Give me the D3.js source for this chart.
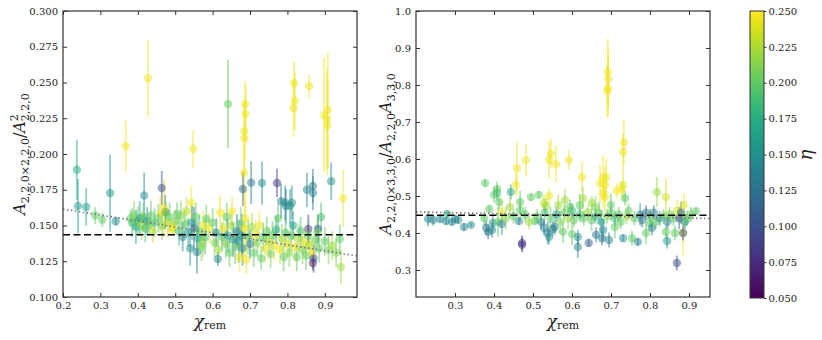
<!DOCTYPE html>
<html>
<head>
<meta charset="utf-8">
<script src="https://cdn.jsdelivr.net/npm/d3@7"></script>
<style>
  body { margin: 0; background: #fff; }
  svg text { font-family: "DejaVu Serif", "Liberation Serif", serif; fill: #222; }
</style>
</head>
<body>
<div id="chart"></div>
<script>
// data: [chi_rem, ratio, error, eta]
var leftPoints = [
  [0.427,0.253,0.027,0.245],[0.368,0.2056,0.018,0.245],[0.548,0.2035,0.013,0.245],[0.237,0.189,0.021,0.17],
  [0.641,0.235,0.031,0.2],[0.687,0.235,0.016,0.245],[0.688,0.228,0.02,0.245],[0.685,0.216,0.02,0.245],
  [0.685,0.211,0.025,0.245],[0.818,0.2497,0.015,0.245],[0.820,0.237,0.02,0.245],[0.816,0.232,0.02,0.245],
  [0.858,0.2475,0.008,0.245],[0.898,0.2273,0.04,0.245],[0.908,0.2308,0.04,0.245],[0.906,0.2245,0.035,0.245],
  [0.907,0.220,0.035,0.245],[0.240,0.1636,0.019,0.16],[0.262,0.163,0.013,0.165],[0.286,0.157,0.006,0.2],
  [0.305,0.154,0.005,0.2],[0.326,0.1727,0.027,0.155],[0.341,0.153,0.003,0.15],[0.417,0.171,0.016,0.15],
  [0.464,0.1762,0.012,0.1],[0.473,0.1594,0.012,0.11],[0.684,0.1867,0.02,0.245],[0.681,0.1755,0.012,0.12],
  [0.703,0.180,0.015,0.13],[0.732,0.1797,0.015,0.145],[0.772,0.1797,0.01,0.08],[0.783,0.167,0.012,0.14],
  [0.794,0.166,0.012,0.14],[0.796,0.1636,0.012,0.14],[0.807,0.1636,0.012,0.15],[0.812,0.166,0.012,0.15],
  [0.852,0.175,0.012,0.14],[0.868,0.1776,0.012,0.13],[0.868,0.1727,0.012,0.14],[0.917,0.181,0.013,0.15],
  [0.949,0.169,0.02,0.245],[0.856,0.1476,0.01,0.08],[0.882,0.1476,0.01,0.11],[0.868,0.1238,0.005,0.07],
  [0.94,0.1406,0.01,0.2],[0.943,0.121,0.012,0.22],[0.614,0.1266,0.005,0.14],[0.54,0.134,0.012,0.15],
  [0.558,0.1315,0.015,0.14],[0.52,0.142,0.01,0.14],[0.46,0.158,0.012,0.245],[0.49,0.1476,0.005,0.245],
  [0.543,0.166,0.012,0.245],[0.574,0.138,0.01,0.22],[0.583,0.1545,0.01,0.2],[0.47,0.162,0.02,0.245],
  [0.38,0.155,0.006,0.2],[0.385,0.152,0.01,0.19],[0.39,0.157,0.01,0.21],[0.395,0.149,0.012,0.17],
  [0.40,0.153,0.01,0.2],[0.405,0.155,0.012,0.16],[0.41,0.150,0.01,0.22],[0.415,0.156,0.01,0.2],
  [0.42,0.148,0.01,0.19],[0.425,0.153,0.01,0.15],[0.43,0.151,0.008,0.21],[0.435,0.157,0.01,0.2],
  [0.44,0.146,0.008,0.23],[0.445,0.152,0.01,0.19],[0.455,0.155,0.01,0.2],[0.465,0.150,0.01,0.21],
  [0.475,0.159,0.008,0.21],[0.48,0.152,0.01,0.23],[0.485,0.156,0.01,0.2],[0.495,0.149,0.005,0.245],
  [0.50,0.153,0.008,0.21],[0.505,0.158,0.008,0.2],[0.51,0.146,0.01,0.19],[0.515,0.157,0.01,0.21],
  [0.525,0.151,0.01,0.2],[0.53,0.160,0.01,0.23],[0.535,0.145,0.01,0.16],[0.545,0.152,0.012,0.15],
  [0.55,0.148,0.015,0.12],[0.555,0.156,0.01,0.2],[0.56,0.141,0.012,0.17],[0.565,0.146,0.012,0.2],
  [0.57,0.135,0.01,0.21],[0.575,0.150,0.01,0.245],[0.58,0.142,0.012,0.19],[0.59,0.148,0.01,0.245],
  [0.60,0.152,0.01,0.2],[0.605,0.138,0.01,0.21],[0.61,0.145,0.01,0.15],[0.615,0.133,0.008,0.22],
  [0.62,0.159,0.012,0.245],[0.625,0.142,0.01,0.19],[0.63,0.148,0.012,0.245],[0.635,0.137,0.01,0.21],
  [0.638,0.156,0.01,0.2],[0.64,0.143,0.012,0.16],[0.645,0.131,0.01,0.2],[0.65,0.150,0.01,0.22],
  [0.652,0.16,0.01,0.245],[0.655,0.140,0.012,0.15],[0.66,0.135,0.012,0.2],[0.665,0.146,0.012,0.14],
  [0.67,0.139,0.015,0.15],[0.672,0.128,0.01,0.245],[0.675,0.151,0.012,0.2],[0.678,0.143,0.015,0.16],
  [0.68,0.134,0.012,0.14],[0.685,0.148,0.02,0.245],[0.688,0.155,0.02,0.245],[0.69,0.126,0.01,0.245],
  [0.695,0.142,0.012,0.2],[0.70,0.137,0.01,0.13],[0.705,0.149,0.01,0.22],[0.71,0.131,0.01,0.2],
  [0.715,0.144,0.01,0.245],[0.72,0.138,0.01,0.21],[0.725,0.150,0.01,0.245],[0.73,0.127,0.008,0.2],
  [0.735,0.142,0.01,0.19],[0.74,0.134,0.01,0.245],[0.745,0.146,0.01,0.2],[0.75,0.139,0.01,0.23],
  [0.755,0.130,0.01,0.21],[0.76,0.143,0.01,0.2],[0.765,0.136,0.01,0.245],[0.77,0.147,0.01,0.17],
  [0.775,0.155,0.01,0.2],[0.78,0.133,0.01,0.245],[0.785,0.141,0.01,0.22],[0.79,0.128,0.01,0.2],
  [0.795,0.145,0.01,0.19],[0.80,0.137,0.01,0.245],[0.805,0.131,0.01,0.21],[0.81,0.143,0.01,0.2],
  [0.815,0.150,0.01,0.16],[0.82,0.135,0.01,0.245],[0.825,0.128,0.01,0.2],[0.83,0.141,0.01,0.22],
  [0.835,0.146,0.01,0.19],[0.84,0.133,0.01,0.21],[0.845,0.138,0.01,0.245],[0.85,0.129,0.01,0.2],
  [0.855,0.143,0.01,0.2],[0.86,0.136,0.01,0.23],[0.865,0.131,0.01,0.245],[0.87,0.127,0.01,0.09],
  [0.875,0.140,0.01,0.2],[0.88,0.145,0.01,0.21],[0.885,0.134,0.01,0.2],[0.89,0.156,0.01,0.19],
  [0.90,0.139,0.01,0.2],[0.91,0.133,0.01,0.21],[0.92,0.136,0.01,0.22],[0.93,0.131,0.01,0.21]
];
var rightPoints = [
  [0.692,0.835,0.09,0.245],[0.693,0.816,0.08,0.245],[0.692,0.792,0.08,0.245],[0.691,0.784,0.07,0.245],
  [0.459,0.575,0.07,0.245],[0.482,0.597,0.045,0.245],[0.541,0.597,0.05,0.245],[0.546,0.614,0.04,0.245],
  [0.559,0.586,0.05,0.245],[0.592,0.597,0.025,0.245],[0.733,0.645,0.06,0.245],[0.731,0.619,0.05,0.245],
  [0.456,0.530,0.03,0.245],[0.626,0.551,0.04,0.245],[0.672,0.535,0.05,0.245],[0.68,0.549,0.06,0.245],
  [0.688,0.551,0.05,0.245],[0.685,0.53,0.05,0.245],[0.68,0.508,0.04,0.245],[0.685,0.497,0.04,0.245],
  [0.715,0.514,0.02,0.245],[0.728,0.519,0.02,0.245],[0.731,0.53,0.04,0.24],[0.818,0.511,0.04,0.22],
  [0.841,0.497,0.05,0.235],[0.887,0.476,0.03,0.24],[0.377,0.535,0.01,0.2],[0.40,0.503,0.02,0.2],
  [0.408,0.519,0.02,0.2],[0.408,0.508,0.02,0.19],[0.413,0.484,0.02,0.2],[0.443,0.511,0.02,0.17],
  [0.441,0.47,0.03,0.22],[0.467,0.484,0.03,0.2],[0.467,0.462,0.03,0.2],[0.495,0.497,0.01,0.2],
  [0.515,0.503,0.01,0.2],[0.528,0.481,0.02,0.23],[0.533,0.473,0.02,0.22],[0.541,0.5,0.02,0.245],
  [0.582,0.489,0.03,0.22],[0.628,0.494,0.03,0.22],[0.651,0.481,0.02,0.22],[0.7,0.476,0.03,0.2],
  [0.736,0.494,0.02,0.2],[0.918,0.459,0.01,0.2],[0.388,0.465,0.01,0.2],
  [0.231,0.438,0.02,0.14],[0.244,0.435,0.015,0.14],[0.262,0.438,0.01,0.15],[0.277,0.432,0.01,0.14],
  [0.28,0.451,0.01,0.17],[0.292,0.43,0.01,0.14],[0.3,0.438,0.01,0.15],[0.308,0.435,0.01,0.14],
  [0.323,0.416,0.01,0.14],[0.341,0.422,0.005,0.15],[0.38,0.414,0.02,0.13],[0.385,0.403,0.02,0.13],
  [0.395,0.408,0.02,0.14],[0.397,0.427,0.02,0.15],[0.41,0.43,0.04,0.2],[0.42,0.425,0.03,0.14],
  [0.43,0.44,0.03,0.21],[0.464,0.432,0.01,0.14],[0.472,0.373,0.02,0.08],[0.472,0.368,0.02,0.08],
  [0.505,0.432,0.01,0.2],[0.521,0.43,0.02,0.14],[0.528,0.414,0.02,0.14],[0.538,0.4,0.03,0.13],
  [0.541,0.389,0.02,0.15],[0.551,0.411,0.02,0.14],[0.556,0.416,0.02,0.14],[0.577,0.403,0.03,0.2],
  [0.60,0.397,0.03,0.2],[0.615,0.389,0.02,0.15],[0.615,0.362,0.03,0.14],[0.643,0.373,0.01,0.11],
  [0.662,0.395,0.02,0.13],[0.677,0.386,0.02,0.13],[0.68,0.408,0.03,0.15],[0.695,0.381,0.02,0.14],
  [0.71,0.416,0.03,0.2],[0.731,0.386,0.01,0.15],[0.754,0.386,0.02,0.2],[0.769,0.376,0.01,0.14],
  [0.79,0.4,0.03,0.2],[0.8,0.427,0.02,0.2],[0.805,0.414,0.02,0.14],[0.841,0.403,0.02,0.2],
  [0.844,0.378,0.02,0.16],[0.864,0.4,0.02,0.2],[0.885,0.4,0.06,0.245],[0.885,0.4,0.02,0.1],
  [0.869,0.319,0.02,0.1],[0.89,0.43,0.02,0.15],
  [0.375,0.44,0.02,0.2],[0.42,0.455,0.03,0.24],[0.45,0.445,0.02,0.2],[0.48,0.45,0.02,0.2],
  [0.49,0.43,0.02,0.22],[0.51,0.445,0.02,0.2],[0.53,0.455,0.02,0.19],[0.545,0.44,0.03,0.2],
  [0.56,0.45,0.02,0.16],[0.57,0.43,0.03,0.21],[0.58,0.455,0.02,0.2],[0.59,0.44,0.03,0.22],
  [0.60,0.46,0.02,0.18],[0.605,0.435,0.02,0.2],[0.62,0.45,0.02,0.19],[0.63,0.44,0.02,0.2],
  [0.64,0.455,0.02,0.22],[0.65,0.435,0.03,0.2],[0.66,0.445,0.02,0.18],[0.67,0.455,0.03,0.2],
  [0.675,0.43,0.03,0.16],[0.69,0.445,0.02,0.21],[0.70,0.455,0.02,0.2],[0.71,0.44,0.02,0.19],
  [0.72,0.45,0.02,0.2],[0.725,0.43,0.02,0.2],[0.74,0.445,0.02,0.22],[0.745,0.46,0.02,0.2],
  [0.76,0.44,0.02,0.2],[0.775,0.45,0.03,0.14],[0.78,0.435,0.02,0.13],[0.79,0.455,0.02,0.12],
  [0.80,0.445,0.02,0.2],[0.81,0.455,0.02,0.13],[0.815,0.43,0.02,0.2],[0.825,0.44,0.02,0.15],
  [0.835,0.445,0.02,0.2],[0.845,0.43,0.02,0.14],[0.85,0.45,0.02,0.21],[0.86,0.44,0.02,0.2],
  [0.87,0.46,0.03,0.24],[0.875,0.44,0.03,0.11],[0.88,0.455,0.03,0.12],[0.895,0.44,0.02,0.2],
  [0.905,0.45,0.02,0.2],[0.62,0.475,0.03,0.2],[0.66,0.47,0.03,0.21],[0.565,0.475,0.03,0.22],
  [0.595,0.47,0.02,0.2]
];
var leftMean = 0.1435;
var leftFit = [[0.2, 0.1615], [0.986, 0.1287]];
var rightMean = 0.448;
var rightFit = [[0.2, 0.457], [0.954, 0.439]];
var leftXTicks = [0.2,0.3,0.4,0.5,0.6,0.7,0.8,0.9];
var leftYTicks = [0.100,0.125,0.150,0.175,0.200,0.225,0.250,0.275,0.300];
var rightXTicks = [0.3,0.4,0.5,0.6,0.7,0.8,0.9];
var rightYTicks = [0.3,0.4,0.5,0.6,0.7,0.8,0.9,1.0];
var etaTicks = [0.050,0.075,0.100,0.125,0.150,0.175,0.200,0.225,0.250];

var serif = '"DejaVu Serif", "Liberation Serif", serif';
var svg = d3.select("#chart").append("svg").attr("width", 822).attr("height", 340);
var color = d3.scaleSequential(d3.interpolateViridis).domain([0.05, 0.25]);

function panel(id, points, xDom, yDom, x0, x1, xTicks, yTicks, yFmt, mean, fit) {
    var y0 = 11, y1 = 297;
    var x = d3.scaleLinear().domain(xDom).range([x0, x1]);
    var y = d3.scaleLinear().domain(yDom).range([y1, y0]);
    svg.append("clipPath").attr("id", id).append("rect")
        .attr("x", x0).attr("y", y0).attr("width", x1 - x0).attr("height", y1 - y0);
    var g = svg.append("g").attr("clip-path", "url(#" + id + ")");
    // error bars
    g.selectAll("line.err").data(points).enter().append("line")
        .attr("x1", d => x(d[0])).attr("x2", d => x(d[0]))
        .attr("y1", d => y(d[1] - d[2])).attr("y2", d => y(d[1] + d[2]))
        .attr("stroke", d => color(d[3])).attr("stroke-width", 1.8).attr("stroke-opacity", 0.5);
    g.selectAll("circle").data(points).enter().append("circle")
        .attr("cx", d => x(d[0])).attr("cy", d => y(d[1])).attr("r", 4.2)
        .attr("fill", d => color(d[3])).attr("fill-opacity", 0.5);
    g.append("line").attr("x1", x0).attr("x2", x1).attr("y1", y(mean)).attr("y2", y(mean))
        .attr("stroke", "black").attr("stroke-width", 1.6).attr("stroke-dasharray", "7,3.5");
    g.append("line").attr("x1", x(fit[0][0])).attr("x2", x(fit[1][0]))
        .attr("y1", y(fit[0][1])).attr("y2", y(fit[1][1]))
        .attr("stroke", "#777").attr("stroke-width", 1.6).attr("stroke-dasharray", "1.5,2.5");

    var fx = d3.format(".1f");
    svg.append("g").attr("transform", "translate(0," + y1 + ")")
        .call(d3.axisBottom(x).tickValues(xTicks).tickFormat(fx).tickSizeInner(-4).tickSizeOuter(0).tickPadding(5));
    svg.append("g").attr("transform", "translate(0," + y0 + ")")
        .call(d3.axisTop(x).tickValues(xTicks).tickFormat("").tickSizeInner(-4).tickSizeOuter(0));
    svg.append("g").attr("transform", "translate(" + x0 + ",0)")
        .call(d3.axisLeft(y).tickValues(yTicks).tickFormat(d3.format(yFmt)).tickSizeInner(-4).tickSizeOuter(0).tickPadding(5));
    svg.append("g").attr("transform", "translate(" + x1 + ",0)")
        .call(d3.axisRight(y).tickValues(yTicks).tickFormat("").tickSizeInner(-4).tickSizeOuter(0));
    svg.selectAll(".domain").remove();
    svg.selectAll(".tick line").attr("stroke", "#333");
    svg.selectAll(".tick text").style("font-family", serif).style("font-size", "10px").attr("fill", "#333");
    svg.append("rect").attr("x", x0).attr("y", y0).attr("width", x1 - x0).attr("height", y1 - y0)
        .attr("fill", "none").attr("stroke", "#333").attr("stroke-width", 1.2);

    // x label
    var xl = svg.append("text").attr("x", (x0 + x1) / 2).attr("y", 327).attr("text-anchor", "middle")
        .style("font-family", serif);
    xl.append("tspan").style("font-style", "italic").style("font-size", "17px").text("χ");
    xl.append("tspan").style("font-size", "11px").attr("dy", 2).text("rem");
}

panel("clipL", leftPoints, [0.2, 0.986], [0.1, 0.3], 63, 357, leftXTicks, leftYTicks, ".3f", leftMean, leftFit);
panel("clipR", rightPoints, [0.2, 0.954], [0.227, 1.0], 416, 710, rightXTicks, rightYTicks, ".1f", rightMean, rightFit);

// y labels
var yl = svg.append("text").attr("transform", "translate(25,154) rotate(-90)").attr("text-anchor", "middle")
    .style("font-family", serif);
yl.append("tspan").style("font-style", "italic").style("font-size", "16px").text("A");
yl.append("tspan").style("font-size", "11px").attr("dy", 4).text("2,2,0×2,2,0");
yl.append("tspan").style("font-size", "16px").attr("dy", -4).text("/");
yl.append("tspan").style("font-style", "italic").style("font-size", "16px").text("A");
yl.append("tspan").style("font-size", "11px").attr("dy", -7).text("2");
yl.append("tspan").style("font-size", "11px").attr("dx", -7).attr("dy", 11).text("2,2,0");

var yr = svg.append("text").attr("transform", "translate(391,154) rotate(-90)").attr("text-anchor", "middle")
    .style("font-family", serif);
yr.append("tspan").style("font-style", "italic").style("font-size", "16px").text("A");
yr.append("tspan").style("font-size", "11px").attr("dy", 4).text("2,2,0×3,3,0");
yr.append("tspan").style("font-size", "16px").attr("dy", -4).text("/");
yr.append("tspan").style("font-style", "italic").style("font-size", "16px").text("A");
yr.append("tspan").style("font-size", "11px").attr("dy", 4).text("2,2,0");
yr.append("tspan").style("font-style", "italic").style("font-size", "16px").attr("dy", -4).text("A");
yr.append("tspan").style("font-size", "11px").attr("dy", 4).text("3,3,0");

// colorbar
var cbX = 750, cbW = 14, cbTop = 11, cbBot = 298;
var grad = svg.append("defs").append("linearGradient").attr("id", "viridis")
    .attr("x1", 0).attr("y1", 1).attr("x2", 0).attr("y2", 0);
d3.range(0, 1.001, 0.05).forEach(function(t) {
    grad.append("stop").attr("offset", t).attr("stop-color", d3.interpolateViridis(t));
});
svg.append("rect").attr("x", cbX).attr("y", cbTop).attr("width", cbW).attr("height", cbBot - cbTop)
    .attr("fill", "url(#viridis)").attr("stroke", "#333").attr("stroke-width", 1);
var cbScale = d3.scaleLinear().domain([0.05, 0.25]).range([cbBot, cbTop]);
var cbAxis = svg.append("g").attr("transform", "translate(" + (cbX + cbW) + ",0)")
    .call(d3.axisRight(cbScale).tickValues(etaTicks).tickFormat(d3.format(".3f")).tickSizeInner(2.5).tickSizeOuter(0).tickPadding(2));
cbAxis.select(".domain").remove();
cbAxis.selectAll(".tick line").attr("stroke", "#333");
cbAxis.selectAll(".tick text").style("font-family", serif).style("font-size", "10px").attr("fill", "#333");
svg.append("text").attr("transform", "translate(812,155) rotate(-90)").attr("text-anchor", "middle")
    .style("font-family", serif).style("font-style", "italic").style("font-size", "18px").text("η");
</script>
</body>
</html>
